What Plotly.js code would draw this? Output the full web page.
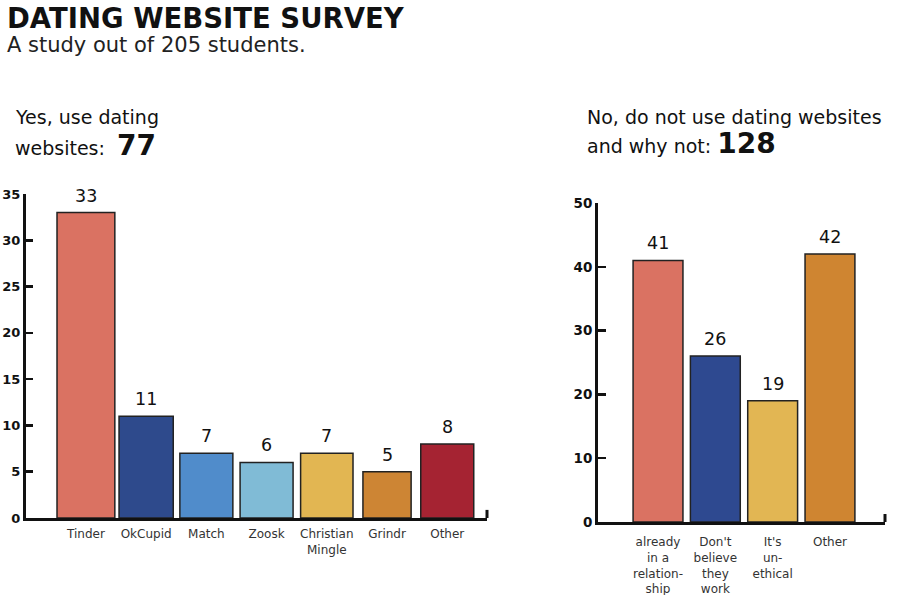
<!DOCTYPE html>
<html>
<head>
<meta charset="utf-8">
<script src="https://cdn.plot.ly/plotly-3.0.1.min.js"></script>
<style>html,body{margin:0;padding:0;background:#fff;}#chart{width:900px;height:595px;}</style>
</head>
<body>
<div id="chart"></div>
<script>
// ---- Data ----
var siteNames = ["Tinder", "OkCupid", "Match", "Zoosk", "Christian<br>Mingle", "Grindr", "Other"];
var siteCounts = [33, 11, 7, 6, 7, 5, 8];
var siteColors = ["#DA7262", "#2E4A8C", "#508CCB", "#80BBD6", "#E2B652", "#CD8534", "#A52332"];

var reasonNames = ["already<br>in a<br>relation-<br>ship", "Don't<br>believe<br>they<br>work", "It's<br>un-<br>ethical", "Other"];
var reasonCounts = [41, 26, 19, 42];
var reasonColors = ["#DA7262", "#2E4990", "#E2B653", "#CF8531"];

var leftTicks = [0, 5, 10, 15, 20, 25, 30, 35];
var rightTicks = [0, 10, 20, 30, 40, 50];

var FONT = "'DejaVu Sans', Verdana, sans-serif";
var W = 900, H = 595;
function px(x){ return x / W; }
function py(y){ return 1 - y / H; }

var traces = [
  {
    type: "bar", x: siteNames, y: siteCounts, xaxis: "x", yaxis: "y",
    marker: {color: siteColors, line: {color: "#222", width: 1.5}},
    width: [0.96, 0.9, 0.88, 0.88, 0.87, 0.8, 0.88], hoverinfo: "none"
  },
  {
    type: "bar", x: reasonNames, y: reasonCounts, xaxis: "x2", yaxis: "y2",
    marker: {color: reasonColors, line: {color: "#222", width: 1.5}},
    width: 0.87, hoverinfo: "none"
  }
];

var annotations = [
  {text: "<b>DATING WEBSITE SURVEY</b>", xref: "paper", yref: "paper", x: px(5), y: py(0), xanchor: "left", yanchor: "top", showarrow: false, font: {family: FONT, size: 27.5, color: "#111"}},
  {text: "A study out of 205 students.", xref: "paper", yref: "paper", x: px(5), y: py(31), xanchor: "left", yanchor: "top", showarrow: false, font: {family: FONT, size: 21, color: "#222"}},
  {text: "Yes, use dating", xref: "paper", yref: "paper", x: px(13), y: py(104), xanchor: "left", yanchor: "top", showarrow: false, font: {family: FONT, size: 19, color: "#111"}},
  {text: "websites:  <b><span style='font-size:28px'>77</span></b>", xref: "paper", yref: "paper", x: px(13), y: py(127), xanchor: "left", yanchor: "top", showarrow: false, font: {family: FONT, size: 19, color: "#111"}},
  {text: "No, do not use dating websites", xref: "paper", yref: "paper", x: px(585), y: py(104), xanchor: "left", yanchor: "top", showarrow: false, font: {family: FONT, size: 19, color: "#111"}},
  {text: "and why not: <b><span style='font-size:28px'>128</span></b>", xref: "paper", yref: "paper", x: px(585), y: py(125), xanchor: "left", yanchor: "top", showarrow: false, font: {family: FONT, size: 19, color: "#111"}}
];

siteNames.forEach(function(n, i){
  annotations.push({text: String(siteCounts[i]), x: n, y: siteCounts[i], xref: "x", yref: "y", yanchor: "bottom", showarrow: false, yshift: 5, font: {family: FONT, size: 17.5, color: "#111"}});
});
reasonNames.forEach(function(n, i){
  annotations.push({text: String(reasonCounts[i]), x: n, y: reasonCounts[i], xref: "x2", yref: "y2", yanchor: "bottom", showarrow: false, yshift: 5, font: {family: FONT, size: 17.5, color: "#111"}});
});

var axisCommon = {showgrid: false, zeroline: false, showline: true, linecolor: "#111", linewidth: 3, fixedrange: true};

var layout = {
  width: W, height: H,
  margin: {l: 0, r: 0, t: 0, b: 0},
  paper_bgcolor: "#fff", plot_bgcolor: "#fff",
  showlegend: false,
  font: {family: FONT, color: "#222"},
  xaxis: Object.assign({}, axisCommon, {
    domain: [px(26), px(487)], anchor: "y", range: [-0.995, 6.66],
    ticks: "", ticklabelstandoff: 3, tickfont: {family: FONT, size: 12, color: "#333"}
  }),
  yaxis: Object.assign({}, axisCommon, {
    domain: [py(518), py(194)], anchor: "x", range: [0, 35],
    tickvals: leftTicks, ticks: "inside", ticklen: 7, tickwidth: 2.5, tickcolor: "#111",
    tickfont: {family: FONT, size: 13, color: "#111", weight: "bold"}
  }),
  xaxis2: Object.assign({}, axisCommon, {
    domain: [px(598), px(885)], anchor: "y2", range: [-1.047, 3.96],
    ticks: "", ticklabelstandoff: 7, tickfont: {family: FONT, size: 12, color: "#333"}
  }),
  yaxis2: Object.assign({}, axisCommon, {
    domain: [py(522), py(203)], anchor: "x2", range: [0, 50],
    tickvals: rightTicks, ticks: "inside", ticklen: 8, tickwidth: 2.5, tickcolor: "#111",
    tickfont: {family: FONT, size: 13.5, color: "#111", weight: "bold"}
  }),
  shapes: [
    {type: "line", xref: "x domain", yref: "y domain", x0: 1, x1: 1, y0: 0, y1: 0.025, line: {color: "#111", width: 3}},
    {type: "line", xref: "x2 domain", yref: "y2 domain", x0: 1, x1: 1, y0: 0, y1: 0.025, line: {color: "#111", width: 3}}
  ],
  annotations: annotations
};

Plotly.newPlot("chart", traces, layout, {displayModeBar: false, staticPlot: true});
</script>
</body>
</html>
